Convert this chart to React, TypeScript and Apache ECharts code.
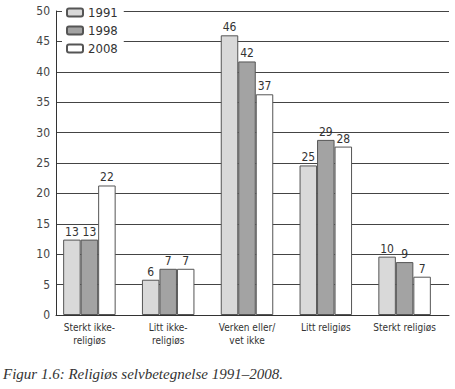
import React, { useEffect, useRef } from "react";
import * as echarts from "echarts";

const categories = [
  "Sterkt ikke-\nreligiøs",
  "Litt ikke-\nreligiøs",
  "Verken eller/\nvet ikke",
  "Litt religiøs",
  "Sterkt religiøs",
];
const seriesNames = ["1991", "1998", "2008"];
// bar heights as drawn
const values1991 = [12.4, 5.8, 46.0, 24.6, 9.6];
const values1998 = [12.4, 7.6, 41.7, 28.8, 8.7];
const values2008 = [21.3, 7.6, 36.3, 27.7, 6.3];
// printed labels
const labels1991 = ["13", "6", "46", "25", "10"];
const labels1998 = ["13", "7", "42", "29", "9"];
const labels2008 = ["22", "7", "37", "28", "7"];
const yTicks = { min: 0, max: 50, interval: 5 };
const caption = "Figur 1.6: Religiøs selvbetegnelse 1991–2008.";

const colors = ["#d9d9d9", "#a3a3a3", "#ffffff"];
const sans = "'DejaVu Sans Condensed', 'Liberation Sans Narrow', 'Open Sans', sans-serif";

export default function App() {
  const ref = useRef<HTMLDivElement>(null);
  useEffect(() => {
    document.body.style.margin = "0";
    const chart = echarts.init(ref.current!, null, { renderer: "svg" });
    const allValues = [values1991, values1998, values2008];
    const allLabels = [labels1991, labels1998, labels2008];
    chart.setOption({
      animation: false,
      backgroundColor: "#ffffff",
      grid: [
        { left: 56, right: 6, top: 11, bottom: 74 },
        { left: 50, right: 11, top: 11, bottom: 74 },
      ],
      xAxis: [
        {
          type: "category",
          gridIndex: 0,
          data: categories,
          axisLine: { show: true, lineStyle: { color: "#333", width: 1 } },
          axisTick: { show: false },
          axisLabel: { show: false },
        },
        {
          type: "category",
          gridIndex: 1,
          data: categories,
          axisLine: { show: false },
          axisTick: { show: false },
          axisLabel: {
            interval: 0,
            margin: 6,
            fontFamily: sans,
            fontSize: 10,
            lineHeight: 13,
            color: "#333",
          },
        },
      ],
      yAxis: [
        {
          type: "value",
          gridIndex: 0,
          min: yTicks.min,
          max: yTicks.max,
          interval: yTicks.interval,
          axisLine: { show: true, lineStyle: { color: "#333", width: 1 } },
          axisTick: { show: false },
          splitLine: { show: true, lineStyle: { color: "#444", width: 1 } },
          axisLabel: {
            margin: 6,
            fontFamily: sans,
            fontSize: 12,
            color: "#444",
          },
        },
        {
          type: "value",
          gridIndex: 1,
          min: yTicks.min,
          max: yTicks.max,
          interval: yTicks.interval,
          show: false,
        },
      ],
      legend: {
        orient: "vertical",
        left: 62,
        top: 4,
        data: seriesNames,
        itemWidth: 16,
        itemHeight: 8,
        itemGap: 5,
        padding: [2, 6, 2, 4],
        backgroundColor: "#ffffff",
        textStyle: { fontFamily: sans, fontSize: 13, color: "#333" },
      },
      series: seriesNames.map((name, i) => ({
        name,
        type: "bar",
        xAxisIndex: 1,
        yAxisIndex: 1,
        data: allValues[i],
        barWidth: 17.5,
        barGap: "0%",
        itemStyle: { color: colors[i], borderColor: "#555", borderWidth: 1 },
        label: {
          show: true,
          position: "top",
          distance: 2,
          fontFamily: sans,
          fontSize: 12,
          color: "#333",
          formatter: (p: any) => allLabels[i][p.dataIndex],
        },
      })),
      graphic: [
        {
          type: "text",
          left: 3,
          top: 366,
          style: {
            text: caption,
            fontFamily: "'Liberation Serif', 'DejaVu Serif', serif",
            fontStyle: "italic",
            fontSize: 15,
            fill: "#333",
          },
        },
      ],
    });
    return () => chart.dispose();
  }, []);
  return <div ref={ref} style={{ width: 455, height: 389 }} />;
}
